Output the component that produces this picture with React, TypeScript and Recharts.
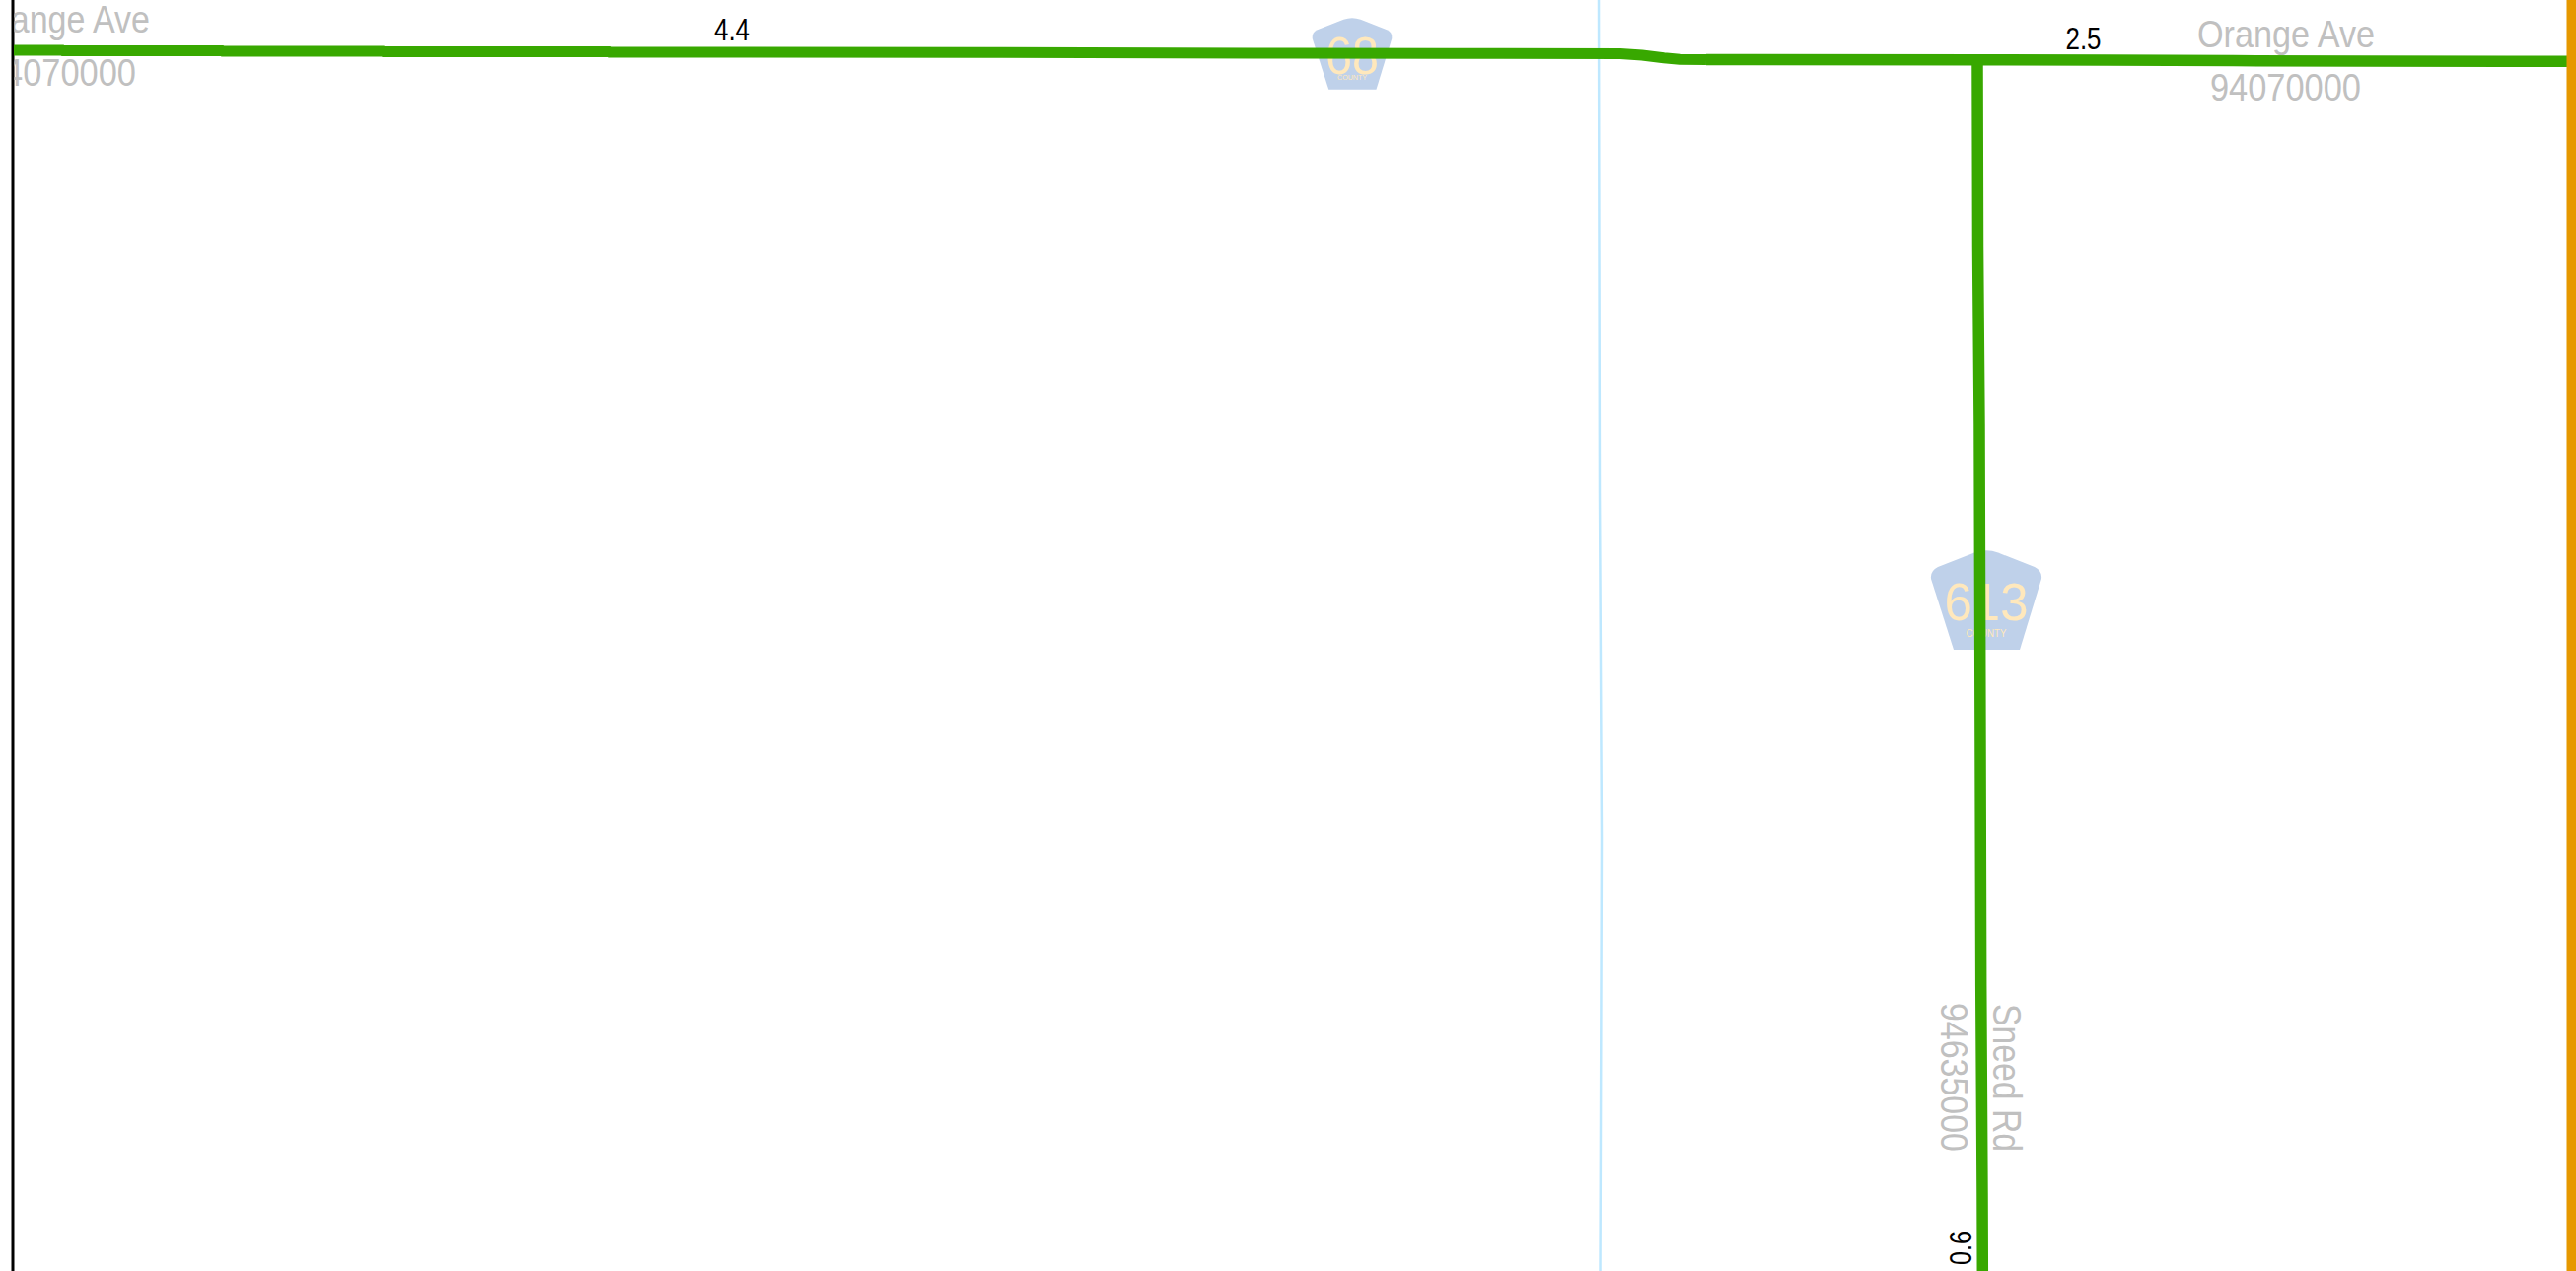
import { ComposedChart, Scatter, XAxis, YAxis } from "recharts";

const MAP_W = 2612;
const MAP_H = 1289;

// road centrelines
const orangeAveWest = [
  { x: 14, y: 51 },
  { x: 63, y: 51 },
  { x: 64, y: 51.5 },
  { x: 225, y: 51.5 },
  { x: 226, y: 52 },
  { x: 388, y: 52 },
  { x: 389, y: 52.4 },
  { x: 618, y: 52.4 },
  { x: 619, y: 52.9 },
  { x: 1000, y: 53.3 },
  { x: 1314, y: 54 },
  { x: 1470, y: 54.2 },
  { x: 1643, y: 54.5 },
  { x: 1665, y: 56 },
  { x: 1687, y: 58.8 },
  { x: 1703, y: 60.3 },
  { x: 1730, y: 60.5 },
];
const orangeAveEast = [
  { x: 1730, y: 60.5 },
  { x: 2005, y: 60.8 },
  { x: 2136, y: 61 },
  { x: 2265, y: 61.6 },
  { x: 2395, y: 62 },
  { x: 2604, y: 62.3 },
];
const sneedRd = [
  { x: 2005, y: 62 },
  { x: 2005.5, y: 250 },
  { x: 2007, y: 430 },
  { x: 2008, y: 760 },
  { x: 2008.7, y: 1000 },
  { x: 2010, y: 1210 },
  { x: 2010.3, y: 1289 },
];
const creek = [
  { x: 1621, y: 0 },
  { x: 1622, y: 500 },
  { x: 1624, y: 850 },
  { x: 1622.5, y: 1289 },
];
const westEdge = [
  { x: 13, y: 0 },
  { x: 13, y: 1289 },
];
const eastEdge = [
  { x: 2607.5, y: 0 },
  { x: 2607.5, y: 1289 },
];

// county route shields (apex of the pentagon)
const shield68 = [{ x: 1371, y: 18 }];
const shield613 = [{ x: 2014, y: 558 }];

const roadLabels = ["Orange Ave", "94070000", "Sneed Rd", "94635000"];
const mileLabels = ["4.4", "2.5", "0.6"];

const GREY = "#c0c0c0";

const noMark = () => <g />;

const textShape =
  (text: string, o: { size: number; len: number; fill: string; rot?: number; clip?: boolean }) =>
  (props: any) => {
    const { cx, cy } = props;
    const el = (
      <text
        x={cx}
        y={cy}
        fontFamily="Liberation Sans"
        fontSize={o.size}
        fill={o.fill}
        textAnchor={o.clip ? "end" : "start"}
        textLength={o.len}
        lengthAdjust="spacingAndGlyphs"
        transform={o.rot ? `rotate(${o.rot} ${cx} ${cy})` : undefined}
      >
        {text}
      </text>
    );
    if (!o.clip) return el;
    // west labels run off the map frame
    const id = "clip-" + text.replace(" ", "");
    return (
      <g>
        <clipPath id={id}>
          <rect x={14.5} y={0} width={300} height={200} />
        </clipPath>
        <g clipPath={`url(#${id})`}>{el}</g>
      </g>
    );
  };

const shieldShape =
  (route: string, o: { k: number; size: number; len: number; base: number; cBase: number; cSize: number; cLen: number }) =>
  (props: any) => {
    const { cx, cy } = props;
    return (
      <g>
        <path
          transform={`translate(${cx} ${cy}) scale(${o.k})`}
          d="M -12 2.5 Q 0 -2 12 2.5 L 49 17 Q 57 21 56 29 L 34 101 L -33 101 L -56 29 Q -57 21 -49 17 Z"
          fill="#bfd1ea"
        />
        <text
          x={cx}
          y={cy + o.base}
          textAnchor="middle"
          fontFamily="Liberation Sans"
          fontSize={o.size}
          fill="#ffe8bc"
          textLength={o.len}
          lengthAdjust="spacingAndGlyphs"
        >
          {route}
        </text>
        <text
          x={cx}
          y={cy + o.cBase}
          textAnchor="middle"
          fontFamily="Liberation Sans"
          fontSize={o.cSize}
          fill="#ffe8bc"
          textLength={o.cLen}
          lengthAdjust="spacingAndGlyphs"
        >
          COUNTY
        </text>
      </g>
    );
  };

export default function App() {
  return (
    <div style={{ position: "absolute", left: 0, top: 0, width: MAP_W, height: MAP_H, background: "#fff" }}>
      <ComposedChart width={MAP_W} height={MAP_H} margin={{ top: 0, right: 0, bottom: 0, left: 0 }}>
        <XAxis type="number" dataKey="x" domain={[0, MAP_W]} hide />
        <YAxis type="number" dataKey="y" domain={[0, MAP_H]} reversed hide />

        {/* everything is a Scatter so paint order follows this list, roads over shields */}
        <Scatter data={shield68} isAnimationActive={false} shape={shieldShape("68", { k: 0.72, size: 54, len: 54, base: 57, cBase: 63, cSize: 7.5, cLen: 30 })} />
        <Scatter data={shield613} isAnimationActive={false} shape={shieldShape("613", { k: 1, size: 54, len: 85, base: 71, cBase: 88, cSize: 10.5, cLen: 41 })} />

        <Scatter data={creek} line={{ stroke: "#bee8ff", strokeWidth: 2.5 }} shape={noMark} isAnimationActive={false} />
        <Scatter data={westEdge} line={{ stroke: "#000", strokeWidth: 3 }} shape={noMark} isAnimationActive={false} />
        <Scatter data={orangeAveWest} line={{ stroke: "#38a800", strokeWidth: 11 }} shape={noMark} isAnimationActive={false} />
        <Scatter data={orangeAveEast} line={{ stroke: "#38a800", strokeWidth: 11.5 }} shape={noMark} isAnimationActive={false} />
        <Scatter data={sneedRd} line={{ stroke: "#38a800", strokeWidth: 11.5 }} shape={noMark} isAnimationActive={false} />
        <Scatter data={eastEdge} line={{ stroke: "#e69800", strokeWidth: 10 }} shape={noMark} isAnimationActive={false} />

        <Scatter data={[{ x: 152, y: 33 }]} isAnimationActive={false} shape={textShape(roadLabels[0], { size: 38, len: 179, fill: GREY, clip: true })} />
        <Scatter data={[{ x: 138, y: 87 }]} isAnimationActive={false} shape={textShape(roadLabels[1], { size: 38, len: 153, fill: GREY, clip: true })} />
        <Scatter data={[{ x: 2228, y: 48 }]} isAnimationActive={false} shape={textShape(roadLabels[0], { size: 39, len: 180, fill: GREY })} />
        <Scatter data={[{ x: 2241, y: 102 }]} isAnimationActive={false} shape={textShape(roadLabels[1], { size: 39, len: 153, fill: GREY })} />
        <Scatter data={[{ x: 2021, y: 1018 }]} isAnimationActive={false} shape={textShape(roadLabels[2], { size: 40, len: 150, fill: GREY, rot: 90 })} />
        <Scatter data={[{ x: 1968, y: 1017 }]} isAnimationActive={false} shape={textShape(roadLabels[3], { size: 39, len: 151, fill: GREY, rot: 90 })} />

        <Scatter data={[{ x: 724, y: 41 }]} isAnimationActive={false} shape={textShape(mileLabels[0], { size: 31, len: 36, fill: "#000" })} />
        <Scatter data={[{ x: 2094.5, y: 50 }]} isAnimationActive={false} shape={textShape(mileLabels[1], { size: 32, len: 36, fill: "#000" })} />
        <Scatter data={[{ x: 1999, y: 1283 }]} isAnimationActive={false} shape={textShape(mileLabels[2], { size: 32, len: 35, fill: "#000", rot: -90 })} />
      </ComposedChart>
    </div>
  );
}
